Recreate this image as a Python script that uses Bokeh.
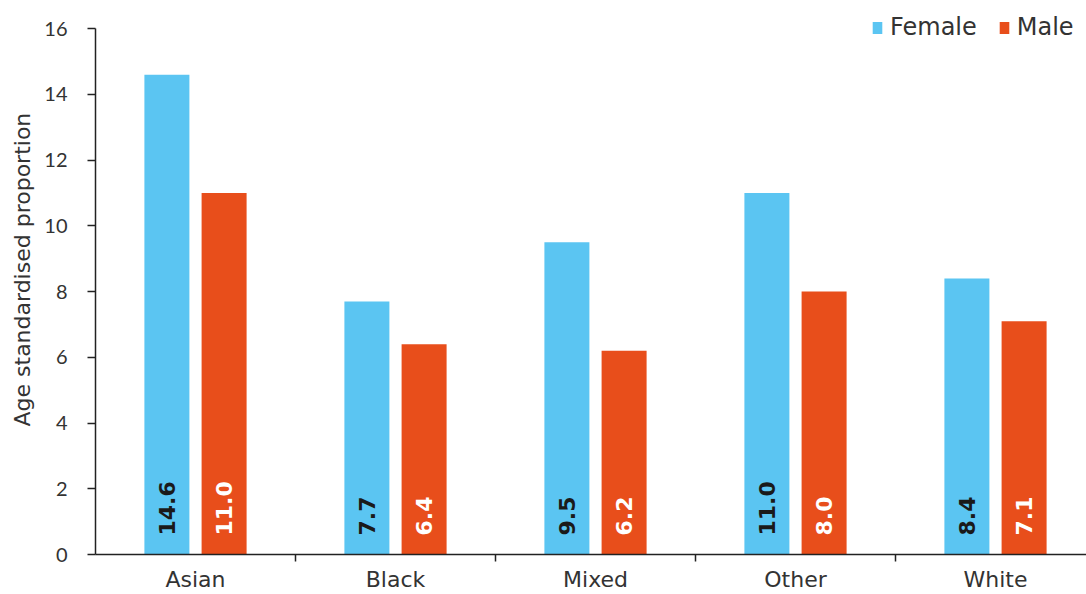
import math
from bokeh.plotting import figure
from bokeh.models import ColumnDataSource, Range1d, FixedTicker, Legend, LegendItem, Title
from bokeh.core.properties import value
from bokeh.embed import file_html
from bokeh.resources import INLINE

categories = ["Asian", "Black", "Mixed", "Other", "White"]
female = [14.6, 7.7, 9.5, 11.0, 8.4]
male = [11.0, 6.4, 6.2, 8.0, 7.1]
y_ticks = [0, 2, 4, 6, 8, 10, 12, 14, 16]

FEMALE_C = "#5BC5F2"
MALE_C = "#E84E1B"
FONT = "DejaVu Sans"
TICKFONT = "Lato"

centers = [i + 0.5 for i in range(len(categories))]
off = 0.143
bw = 0.225

src_f = ColumnDataSource(dict(x=[c - off for c in centers], top=female,
                              lab=[f"{v:.1f}" for v in female]))
src_m = ColumnDataSource(dict(x=[c + off for c in centers], top=male,
                              lab=[f"{v:.1f}" for v in male]))

p = figure(width=1086, height=594, output_backend="svg", toolbar_location=None,
           x_range=Range1d(0, 4.955), y_range=Range1d(0, 16.43),
           min_border_left=95, min_border_right=0, min_border_top=14,
           min_border_bottom=0)
p.outline_line_color = None
p.xgrid.visible = False
p.ygrid.visible = False
p.background_fill_color = "white"
p.border_fill_color = "white"

rf = p.vbar(x="x", top="top", width=bw, source=src_f, fill_color=FEMALE_C, line_color=None)
rm = p.vbar(x="x", top="top", width=bw, source=src_m, fill_color=MALE_C, line_color=None)

p.text(x="x", y=0, text="lab", source=src_f, angle=math.pi / 2, y_offset=-19,
       text_align="left", text_baseline="middle", text_font=value(FONT),
       text_font_style="bold", text_font_size="22px", text_color="#1a1a1a")
p.text(x="x", y=0, text="lab", source=src_m, angle=math.pi / 2, y_offset=-19,
       text_align="left", text_baseline="middle", text_font=value(FONT),
       text_font_style="bold", text_font_size="22px", text_color="white")

# x axis
xa = p.xaxis[0]
xa.ticker = FixedTicker(ticks=centers, minor_ticks=[1, 2, 3, 4])
xa.major_label_overrides = {c: cat for c, cat in zip(centers, categories)}
xa.major_tick_line_color = None
xa.major_tick_out = 7
xa.major_tick_in = 0
xa.minor_tick_out = 7
xa.minor_tick_in = 0
xa.minor_tick_line_color = "#222222"
xa.minor_tick_line_width = 1.5
xa.axis_line_color = "#222222"
xa.axis_line_width = 1.5
xa.major_label_text_font = FONT
xa.major_label_text_font_size = "22px"
xa.major_label_text_color = "#333333"
xa.major_label_standoff = 5

# y axis
ya = p.yaxis[0]
ya.ticker = FixedTicker(ticks=y_ticks)
ya.bounds = (0, 16)
ya.major_tick_out = 8
ya.major_tick_in = 0
ya.minor_tick_line_color = None
ya.major_tick_line_color = "#222222"
ya.major_tick_line_width = 1.5
ya.axis_line_color = "#222222"
ya.axis_line_width = 1.5
ya.major_label_text_font = TICKFONT
ya.major_label_text_font_size = "20px"
ya.major_label_text_color = "#333333"
ya.major_label_standoff = 20

ytitle = Title(text="Age standardised proportion", align="left", offset=128,
               text_font=FONT, text_font_size="22px", text_font_style="normal",
               text_color="#333333", standoff=14)
p.add_layout(ytitle, "left")

legend = Legend(items=[LegendItem(label="Female", renderers=[rf]),
                       LegendItem(label="Male", renderers=[rm])],
                orientation="horizontal", location=(776, 513),
                glyph_width=12, glyph_height=15, label_standoff=7, spacing=21,
                label_text_font=FONT, label_text_font_size="24px",
                label_text_color="#333333", border_line_color=None,
                background_fill_alpha=0, padding=0, margin=0)
p.add_layout(legend, "center")

open("out.html", "w").write(file_html(p, INLINE))
